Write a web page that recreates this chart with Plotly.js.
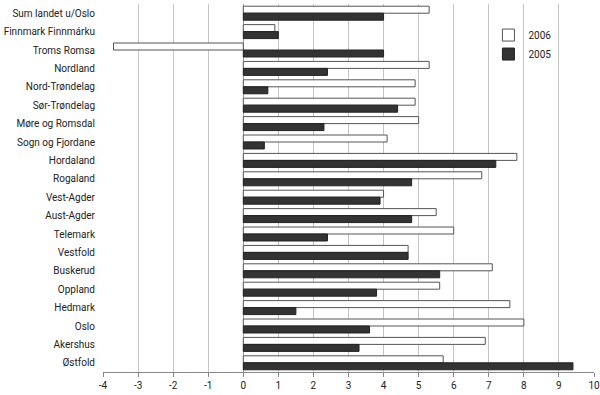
<!DOCTYPE html>
<html>
<head>
<meta charset="utf-8">
<script src="https://cdn.plot.ly/plotly-3.0.1.min.js"></script>
<style>html,body{margin:0;padding:0;background:#fff;}#chart{width:600px;height:395px;}</style>
</head>
<body>
<div id="chart"></div>
<script>
const categories = ["Sum landet u/Oslo","Finnmark Finnmárku","Troms Romsa","Nordland","Nord-Trøndelag","Sør-Trøndelag","Møre og Romsdal","Sogn og Fjordane","Hordaland","Rogaland","Vest-Agder","Aust-Agder","Telemark","Vestfold","Buskerud","Oppland","Hedmark","Oslo","Akershus","Østfold"];
const values2006 = [5.3,0.9,-3.7,5.3,4.9,4.9,5.0,4.1,7.8,6.8,4.0,5.5,6.0,4.7,7.1,5.6,7.6,8.0,6.9,5.7];
const values2005 = [4.0,1.0,4.0,2.4,0.7,4.4,2.3,0.6,7.2,4.8,3.9,4.8,2.4,4.7,5.6,3.8,1.5,3.6,3.3,9.4];
const xTicks = [-4,-3,-2,-1,0,1,2,3,4,5,6,7,8,9,10];

const fam = "Roboto, Liberation Sans, sans-serif";
const font = {family: fam, size: 10, color: "#222"};
const data = [
  {type: "bar", orientation: "h", name: "2006", y: categories, x: values2006,
   marker: {color: "#ffffff", line: {color: "#555555", width: 1}}},
  {type: "bar", orientation: "h", name: "2005", y: categories, x: values2005,
   marker: {color: "#333333", line: {color: "#222222", width: 1}}}
];
const layout = {
  width: 600, height: 395,
  margin: {l: 103, r: 6, t: 4, b: 23, pad: 0},
  paper_bgcolor: "#fff", plot_bgcolor: "#fff",
  barmode: "group", bargap: 0.24, bargroupgap: 0,
  font: font,
  showlegend: true,
  legend: {x: 0.785, y: 0.955, xanchor: "left", yanchor: "top", bgcolor: "rgba(0,0,0,0)",
           font: {family: fam, size: 10, color: "#222"}, tracegroupgap: 0, itemwidth: 30},
  xaxis: {range: [-4, 10], tickvals: xTicks, ticktext: xTicks.map(String), showgrid: true,
          gridcolor: "#c4c4c4", gridwidth: 1, zeroline: true, zerolinecolor: "#999", zerolinewidth: 1,
          showline: true, linecolor: "#888", linewidth: 1, ticks: "outside", ticklen: 4, tickcolor: "#888",
          tickfont: {family: fam, size: 10, color: "#222"}, fixedrange: true},
  yaxis: {type: "category", autorange: "reversed", showgrid: false, zeroline: false, showline: false,
          ticks: "", ticklabelstandoff: 7, tickfont: font, automargin: false}
};
Plotly.newPlot("chart", data, layout, {displayModeBar: false, staticPlot: true});
</script>
</body>
</html>
